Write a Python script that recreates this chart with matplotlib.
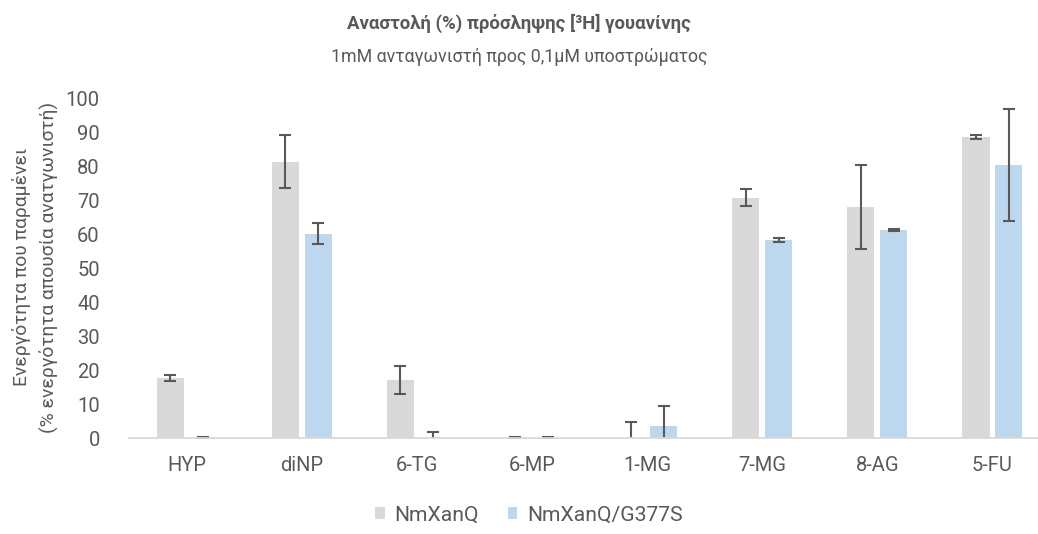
import matplotlib
matplotlib.use("Agg")
import matplotlib.pyplot as plt
import numpy as np

plt.rcParams['font.family'] = ['Roboto', 'DejaVu Sans']

categories = ["HYP", "diNP", "6-TG", "6-MP", "1-MG", "7-MG", "8-AG", "5-FU"]
series_names = ["NmXanQ", "NmXanQ/G377S"]
wt_values = [17.6, 81.3, 17.1, 0.0, 0.0, 70.6, 68.0, 88.5]
wt_errors = [0.8, 7.9, 4.1, 0.2, 4.7, 2.5, 12.4, 0.7]
mut_values = [0.0, 60.1, 0.0, 0.0, 3.5, 58.2, 61.1, 80.3]
mut_errors = [0.2, 3.0, 1.8, 0.2, 5.9, 0.6, 0.3, 16.6]
yticks = list(range(0, 101, 10))

title = "Αναστολή (%) πρόσληψης [³H] γουανίνης"
subtitle = "1mM ανταγωνιστή προς 0,1μM υποστρώματος"
ylabel = "Ενεργότητα που παραμένει\n(% ενεργότητα απουσία ανατγωνιστή)"

text_color = "#595959"
colors = ["#d9d9d9", "#bdd7ee"]

W, H = 1038, 534
fig = plt.figure(figsize=(W / 100, H / 100), dpi=100)
ax = fig.add_axes([129 / W, (H - 438) / H, 921 / W, 340 / H])

x = np.arange(len(categories))
width = 0.235
offset = 0.143
err_kw = dict(ecolor="#595959", elinewidth=1.5, capsize=4.6, capthick=1.5)
ax.bar(x - offset, wt_values, width, color=colors[0], label=series_names[0],
       yerr=wt_errors, error_kw=err_kw, zorder=2)
ax.bar(x + offset, mut_values, width, color=colors[1], label=series_names[1],
       yerr=mut_errors, error_kw=err_kw, zorder=2)

ax.set_xlim(-0.5, 7.5)
ax.set_ylim(0, 100)
ax.set_yticks(yticks)
ax.set_xticks(x)
ax.set_xticklabels(categories)

for s in ["top", "right", "left"]:
    ax.spines[s].set_visible(False)
ax.spines["bottom"].set_color("#d9d9d9")
ax.spines["bottom"].set_linewidth(1.3)
ax.tick_params(axis="both", length=0, colors=text_color, labelsize=14.5)
ax.tick_params(axis="y", pad=21)
ax.tick_params(axis="x", pad=13)

fig.text(35 / W, (H - 267) / H, ylabel, rotation=90, ha="center",
         va="center", color=text_color, fontsize=13.9, linespacing=1.45)

fig.text(0.5, 1 - 23 / H, title, ha="center", va="center", color=text_color,
         fontsize=13.4, fontweight="bold")
fig.text(0.5, 1 - 57 / H, subtitle, ha="center", va="center", color=text_color,
         fontsize=12.8)

fig.legend(loc="center", bbox_to_anchor=(529 / W, 1 - 515 / H), ncol=2,
           frameon=False, fontsize=15.2, handlelength=0.46, handleheight=0.46,
           columnspacing=1.35, handletextpad=0.46, labelcolor=text_color)

fig.savefig("out.png", dpi=100)
